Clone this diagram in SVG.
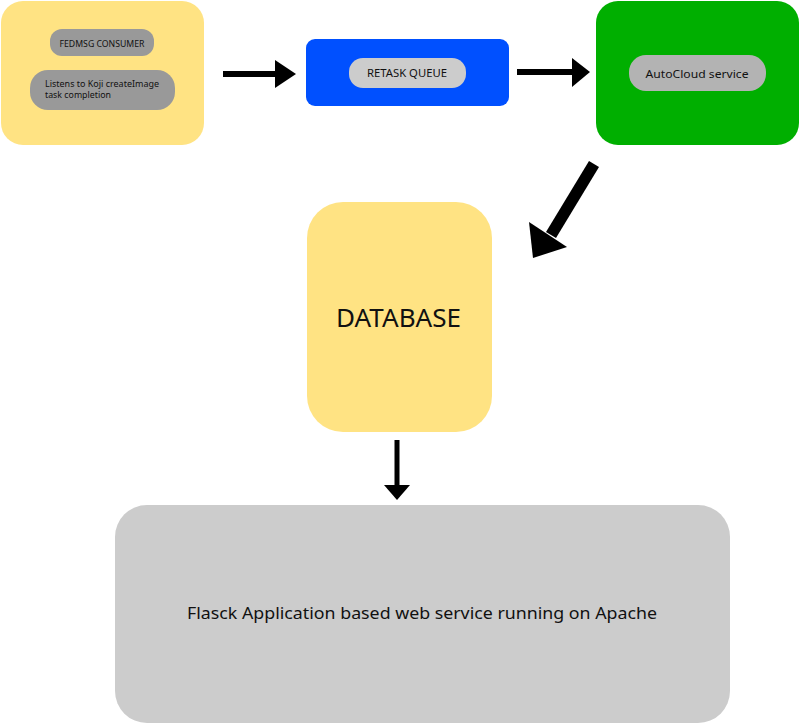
<svg xmlns="http://www.w3.org/2000/svg" width="800" height="725" viewBox="0 0 800 725">
<style>
text{font-family:"Noto Sans","DejaVu Sans",sans-serif;fill:#111}
.c{text-anchor:middle;dominant-baseline:central}
.arr{fill:#000}
</style>
<rect width="800" height="725" fill="#fff"/>
<g id="consumer">
<rect x="1" y="1" width="203" height="144" rx="22" fill="#ffe383"/>
<rect x="50" y="29" width="104" height="27" rx="12" fill="#999999"/>
<text class="c" x="102" y="43" font-size="8.5" textLength="85" lengthAdjust="spacingAndGlyphs">FEDMSG CONSUMER</text>
<rect x="30" y="70" width="145" height="40" rx="18" fill="#999999"/>
<text x="45" y="87" font-size="8" textLength="114" lengthAdjust="spacingAndGlyphs">Listens to Koji createImage</text>
<text x="45" y="98" font-size="8" textLength="66" lengthAdjust="spacingAndGlyphs">task completion</text>
</g>
<g id="retask">
<rect x="306" y="39" width="203" height="67" rx="9" fill="#0050ff"/>
<rect x="349" y="58" width="117" height="30" rx="14" fill="#cccccc"/>
<text class="c" x="407" y="73" font-size="10.5" textLength="80" lengthAdjust="spacingAndGlyphs">RETASK QUEUE</text>
</g>
<g id="autocloud">
<rect x="596" y="1" width="203" height="144" rx="22" fill="#00af00"/>
<rect x="629" y="55" width="137" height="36" rx="17" fill="#b3b3b3"/>
<text class="c" x="697" y="73" font-size="11.5" textLength="103" lengthAdjust="spacingAndGlyphs">AutoCloud service</text>
</g>
<g id="database">
<rect x="307" y="202" width="185" height="230" rx="36" fill="#ffe383"/>
<text x="398.5" y="327" text-anchor="middle" font-size="26" textLength="125" lengthAdjust="spacingAndGlyphs">DATABASE</text>
</g>
<g id="flask">
<rect x="115" y="505" width="615" height="218" rx="32" fill="#cccccc"/>
<text x="422" y="619" text-anchor="middle" font-size="17" textLength="470" lengthAdjust="spacingAndGlyphs">Flasck Application based web service running on Apache</text>
</g>
<g id="connectors">
<rect class="arr" x="223" y="71" width="54" height="6"/>
<polygon class="arr" points="275,60 296,74 275,88"/>
<rect class="arr" x="517" y="69" width="57" height="6"/>
<polygon class="arr" points="572,58 590,72 572,87"/>
<polygon class="arr" points="589,161 599,167 556,238 546,232"/>
<polygon class="arr" points="529,222 533,258 567,247"/>
<rect class="arr" x="394.5" y="440" width="5" height="46"/>
<polygon class="arr" points="384,485 410,485 397,500"/>
</g>
</svg>
